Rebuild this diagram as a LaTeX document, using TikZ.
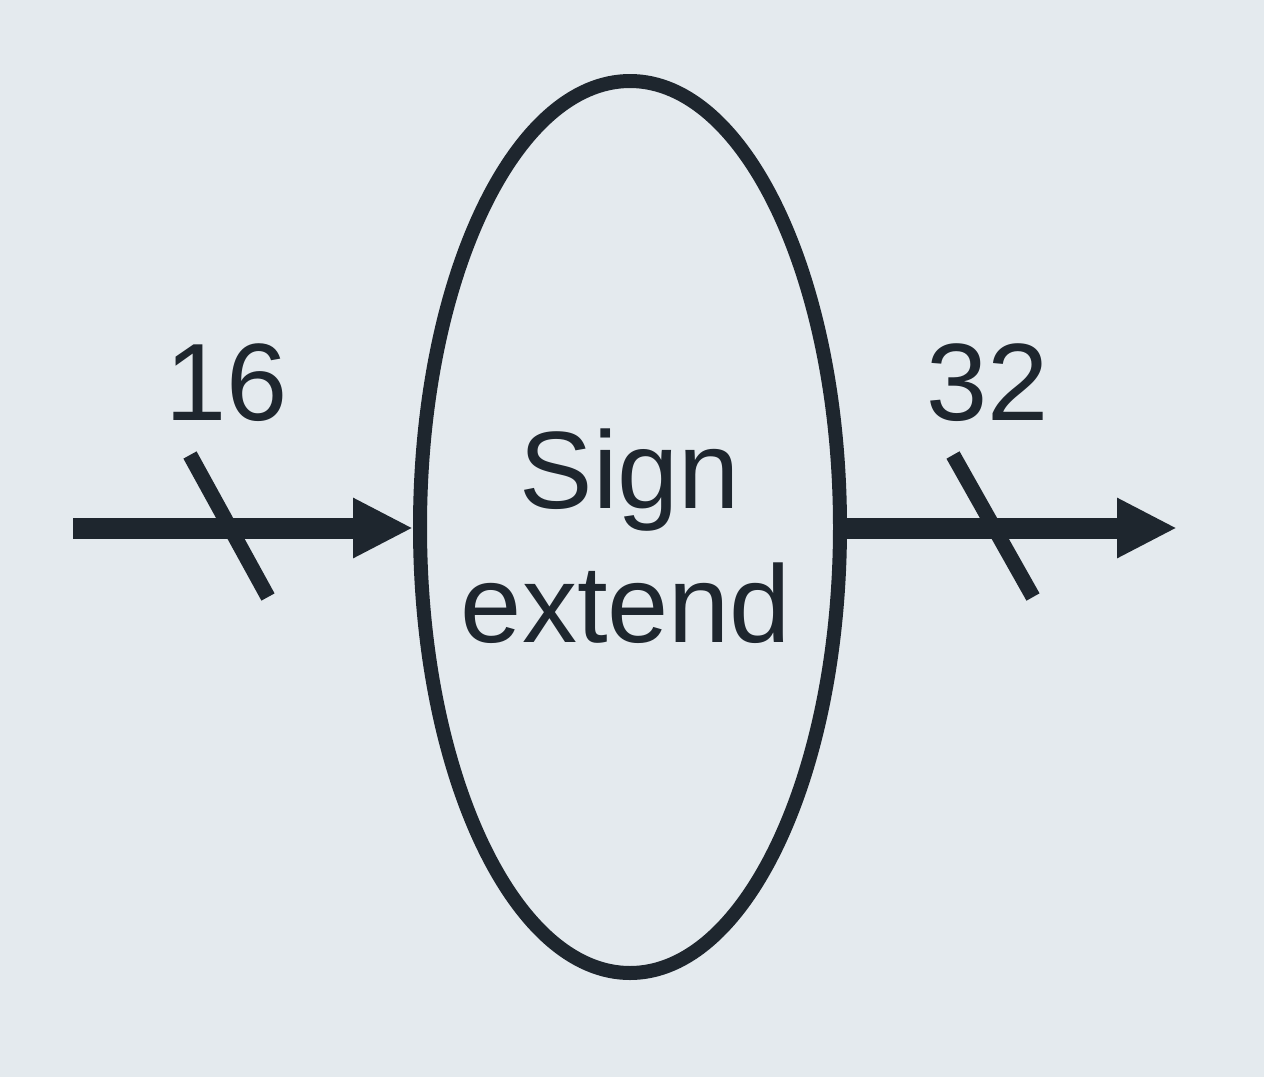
\documentclass[tikz,border=0pt]{standalone}
\usepackage{fontspec}
\setmainfont{Liberation Sans}
\usetikzlibrary{arrows.meta,shapes.geometric}
\definecolor{paper}{RGB}{228,234,238}
\definecolor{ink}{RGB}{30,38,46}
\tikzset{
  bus/.style={draw=ink, line width=21pt, -{Triangle[length=60pt 0 0, width=56pt 0 0, fill=ink]}},
  slash/.style={draw=ink, line width=15pt},
  blk/.style={ellipse, draw=ink, line width=14pt, minimum width=420pt, minimum height=892pt, inner sep=0pt},
  lbl/.style={text=ink, font=\fontsize{110}{134}\selectfont, inner sep=0pt, anchor=base}
}
\begin{document}
\begin{tikzpicture}[x=1pt,y=-1pt]
\fill[paper] (0,0) rectangle (1264,1077);
\useasboundingbox (0,0) rectangle (1264,1077);
\node[blk] (se) at (630,527) {};
\node[lbl] (sign) at (630,508) {Sign};
\node[lbl] (ext) at (626,642) {extend};
\coordinate (in) at (73,528);
\coordinate (out) at (1177,528);
\draw[bus] (in) -- (se.west |- in);
\draw[bus] (se.east |- out) -- (out);
\coordinate (s1a) at (190,455); \coordinate (s1b) at (268,597);
\coordinate (s2a) at (953,455); \coordinate (s2b) at (1033,597);
\draw[slash] (s1a) -- (s1b);
\draw[slash] (s2a) -- (s2b);
\node[lbl] (w16) at (227,420) {16};
\node[lbl] (w32) at (988,420) {32};
\end{tikzpicture}
\end{document}
